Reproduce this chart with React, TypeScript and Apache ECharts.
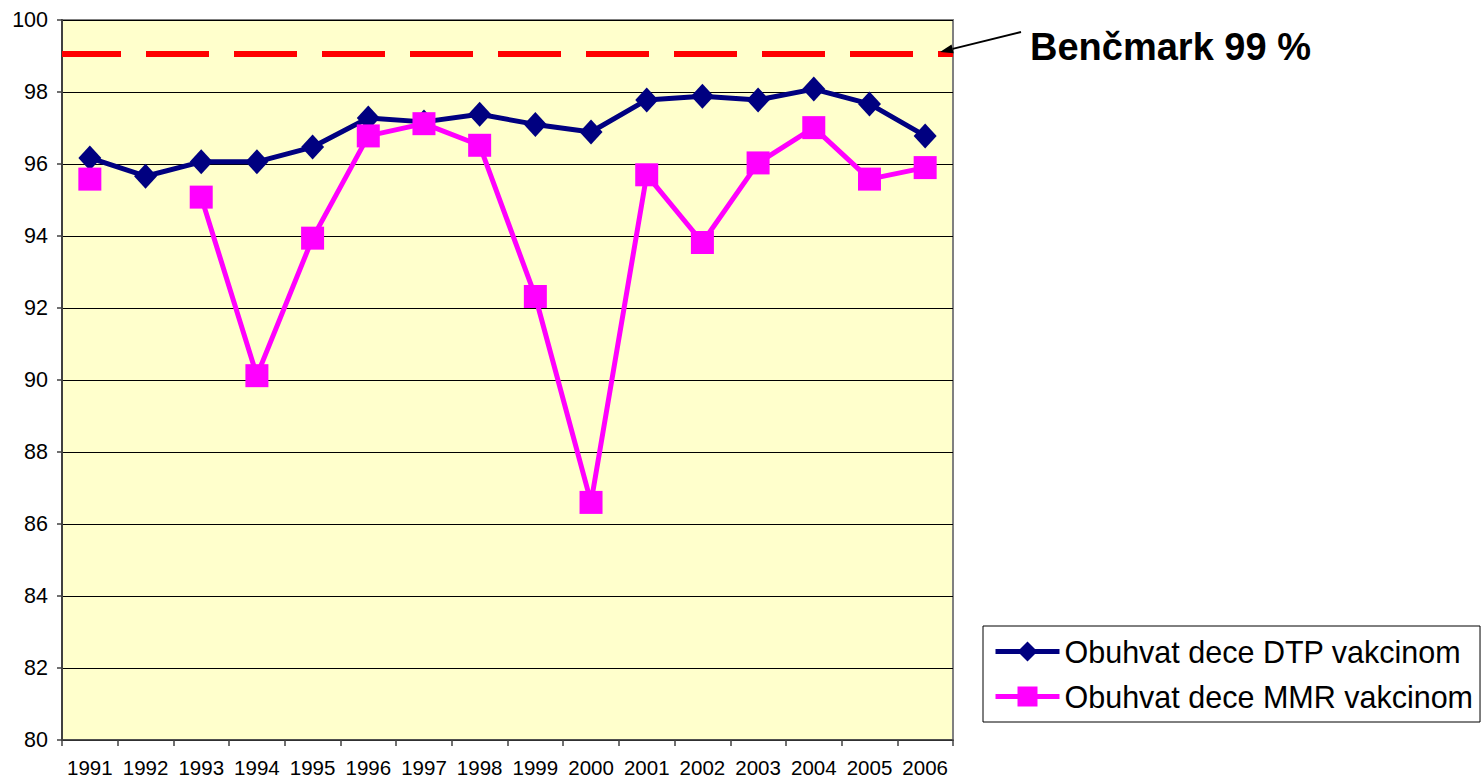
import React, { useEffect, useRef } from "react";
import * as echarts from "echarts";

const years = ["1991","1992","1993","1994","1995","1996","1997","1998","1999","2000","2001","2002","2003","2004","2005","2006"];
const dtp = [96.17, 95.66, 96.06, 96.06, 96.47, 97.28, 97.17, 97.38, 97.1, 96.89, 97.78, 97.88, 97.78, 98.08, 97.67, 96.78];
const mmr: (number | null)[] = [95.58, null, 95.08, 90.12, 93.94, 96.78, 97.12, 96.52, 92.32, 86.6, 95.7, 93.82, 96.03, 97.01, 95.58, 95.9];
const benchmark = 99.06;
const yTicks = { min: 80, max: 100, interval: 2 };
const seriesNames = ["Obuhvat dece DTP vakcinom", "Obuhvat dece MMR vakcinom"];
const benchmarkLabel = "Benčmark 99 %";

const FONT = "'Liberation Sans', Arial, sans-serif";

export default function App() {
  const ref = useRef<HTMLDivElement>(null);
  useEffect(() => {
    if (!ref.current) return;
    const chart = echarts.init(ref.current, undefined, { renderer: "svg" });
    const tipX = 940, tipY = 52, fromX = 1021, fromY = 32;
    const dx = tipX - fromX, dy = tipY - fromY;
    const len = Math.hypot(dx, dy);
    const ux = dx / len, uy = dy / len;
    const ah = 13, aw = 4.5;
    const bx = tipX - ux * ah, by = tipY - uy * ah;
    chart.setOption({
      animation: false,
      backgroundColor: "#ffffff",
      textStyle: { fontFamily: FONT },
      grid: {
        left: 62, top: 20, right: 529, bottom: 40,
        show: true, backgroundColor: "#FFFFCC", borderColor: "#808080", borderWidth: 2,
      },
      legend: {
        orient: "vertical",
        left: 983, top: 626,
        padding: [10, 7, 10, 10],
        itemGap: 14,
        itemWidth: 64, itemHeight: 25,
        borderColor: "#000", borderWidth: 1,
        backgroundColor: "#fff",
        lineStyle: { width: 5 },
        textStyle: { fontSize: 30.5, color: "#000", fontFamily: FONT },
        data: seriesNames,
      },
      xAxis: {
        type: "category",
        data: years,
        boundaryGap: true,
        axisLine: { lineStyle: { color: "#404040", width: 1.5 } },
        axisTick: { show: true, length: 6, lineStyle: { color: "#404040", width: 1.5 } },
        axisLabel: { color: "#000", fontSize: 20.5, margin: 17, fontFamily: FONT, interval: 0 },
      },
      yAxis: {
        type: "value",
        min: yTicks.min, max: yTicks.max, interval: yTicks.interval,
        axisLine: { show: true, lineStyle: { color: "#404040", width: 2 } },
        axisTick: { show: true, length: 5, lineStyle: { color: "#404040", width: 1.5 } },
        axisLabel: { color: "#000", fontSize: 21.5, margin: 14, fontFamily: FONT },
        splitLine: { show: true, lineStyle: { color: "#000", width: 1 } },
      },
      series: [
        {
          name: seriesNames[0],
          type: "line",
          data: dtp,
          color: "#000080",
          lineStyle: { color: "#000080", width: 5 },
          itemStyle: { color: "#000080" },
          symbol: "diamond",
          symbolSize: [23, 25],
          z: 3,
          markLine: {
            silent: true,
            symbol: "none",
            label: { show: false },
            lineStyle: { color: "#FF0000", width: 6, type: [63, 25], dashOffset: 4 },
            data: [{ yAxis: benchmark }],
            z: 2,
          },
        },
        {
          name: seriesNames[1],
          type: "line",
          data: mmr,
          connectNulls: false,
          color: "#FF00FF",
          lineStyle: { color: "#FF00FF", width: 5 },
          itemStyle: { color: "#FF00FF" },
          symbol: "rect",
          symbolSize: 23,
          z: 4,
        },
      ],
      graphic: [
        {
          type: "line",
          shape: { x1: fromX, y1: fromY, x2: bx, y2: by },
          style: { stroke: "#000", lineWidth: 2 },
          z: 10,
        },
        {
          type: "polygon",
          shape: {
            points: [
              [tipX, tipY],
              [bx - uy * aw, by + ux * aw],
              [bx + uy * aw, by - ux * aw],
            ],
          },
          style: { fill: "#000" },
          z: 10,
        },
        {
          type: "text",
          x: 1030, y: 47,
          style: {
            text: benchmarkLabel,
            font: `bold 38px ${FONT}`,
            fill: "#000",
            textVerticalAlign: "middle",
            verticalAlign: "middle",
          },
          z: 10,
        },
      ],
    });
    return () => chart.dispose();
  }, []);
  return <div ref={ref} style={{ position: "fixed", left: 0, top: 0, width: 1482, height: 780 }} />;
}
